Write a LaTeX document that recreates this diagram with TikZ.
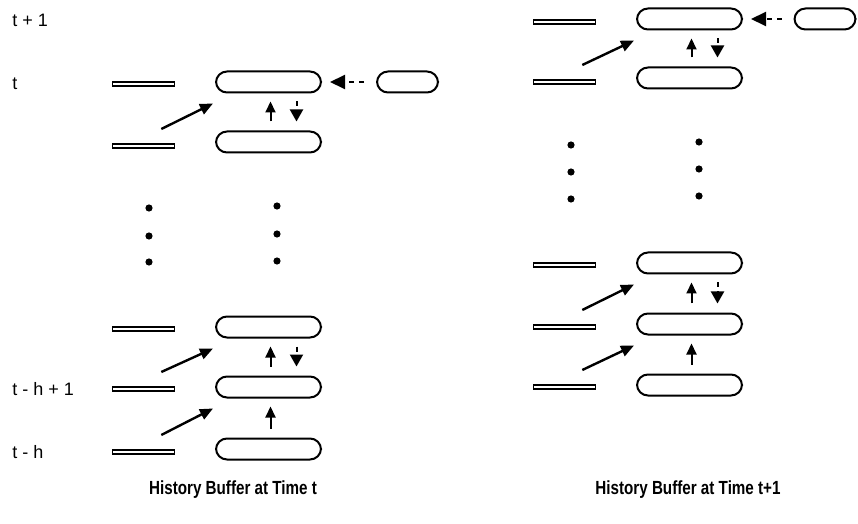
\documentclass[tikz,border=0pt]{standalone}
\usepackage{fontspec}
\setmainfont{Liberation Sans}
\newfontfamily\capfont[FakeStretch=0.8]{Liberation Sans}
\usetikzlibrary{arrows.meta}
\tikzset{
  cell/.style={draw, line width=1pt, rounded corners=5.5pt, minimum width=52.5pt, minimum height=10.5pt, inner sep=0pt},
  newcell/.style={cell, minimum width=30.5pt},
  bar/.style={draw, line width=0.8pt, minimum width=31pt, minimum height=2.2pt, inner sep=0pt},
  dot/.style={circle, fill, inner sep=0pt, minimum size=3.6pt},
  lab/.style={anchor=west, inner sep=0pt, font=\fontsize{9}{10}\selectfont},
  caption/.style={inner sep=0pt, font=\capfont\bfseries\fontsize{9.5}{11}\selectfont},
  feed/.style={line width=1.2pt, -{Triangle[length=6.5pt,width=5.5pt]}},
  up/.style={line width=1pt, -{Triangle[length=5.5pt,width=5pt]}, shorten <=4.5pt, shorten >=4pt},
  down/.style={line width=1pt, dash pattern=on 2.5pt off 2pt, -{Triangle[length=6pt,width=6.5pt]}, shorten <=4pt, shorten >=4.5pt},
  load/.style={line width=1pt, dash pattern=on 2.5pt off 2.5pt, -{Triangle[length=7.5pt,width=7pt]}, shorten <=6pt, shorten >=4pt}
}
\begin{document}
\begin{tikzpicture}[x=0.5pt, y=-0.5pt]
      \useasboundingbox (0,0) rectangle (858,524);
      % time labels
      \draw
        (12,20) node[lab] (l0){t + 1}
        (12,84) node[lab] (l1){t}
        (12,389) node[lab] (l4){t - h + 1}
        (12,452) node[lab] (l5){t - h};
      % history buffer at time t
      \draw
        (143.5,84) node[bar] (b1){}
        (143.5,146) node[bar] (b2){}
        (143.5,329) node[bar] (b3){}
        (143.5,389) node[bar] (b4){}
        (143.5,452) node[bar] (b5){}
        (268.5,82) node[cell] (a1){}
        (268.5,142) node[cell] (a2){}
        (268.5,327) node[cell] (a3){}
        (268.5,387) node[cell] (a4){}
        (268.5,449) node[cell] (a5){}
        (407.5,82) node[newcell] (s1){};
      \draw
        (149,208) node[dot] (p1){}
        (149,236) node[dot] (p2){}
        (149,262) node[dot] (p3){}
        (277,206) node[dot] (q1){}
        (277,234) node[dot] (q2){}
        (277,261) node[dot] (q3){};
      % history buffer at time t+1
      \draw
        (564.5,22) node[bar] (d1){}
        (564.5,82) node[bar] (d2){}
        (564.5,265) node[bar] (d3){}
        (564.5,327) node[bar] (d4){}
        (564.5,387) node[bar] (d5){}
        (689.5,19) node[cell] (c1){}
        (689.5,78) node[cell] (c2){}
        (689.5,263) node[cell] (c3){}
        (689.5,324) node[cell] (c4){}
        (689.5,385) node[cell] (c5){}
        (825,19) node[newcell] (s2){};
      \draw
        (571,145) node[dot] (r1){}
        (571,172) node[dot] (r2){}
        (571,199) node[dot] (r3){}
        (699,142) node[dot] (u1){}
        (699,169) node[dot] (u2){}
        (699,196) node[dot] (u3){};
      \draw
        (233,490) node[caption] (t0){History Buffer at Time t}
        (688,490) node[caption] (t1){History Buffer at Time t+1};
      \begin{scope}
        \draw[feed] ([shift={(-14,-14)}]b2.north east) to ([shift={(-2,10)}]a1.south west);
        \draw[feed] ([shift={(-14,-14)}]b4.north east) to ([shift={(-2,10)}]a3.south west);
        \draw[feed] ([shift={(-14,-14)}]b5.north east) to ([shift={(-2,10)}]a4.south west);
        \draw[up] ([xshift=1pt]a2.north) to ([xshift=1pt]a1.south);
        \draw[down] ([xshift=14pt]a1.south) to ([xshift=14pt]a2.north);
        \draw[up] ([xshift=1pt]a4.north) to ([xshift=1pt]a3.south);
        \draw[down] ([xshift=14pt]a3.south) to ([xshift=14pt]a4.north);
        \draw[up] ([xshift=1pt]a5.north) to ([xshift=1pt]a4.south);
        \draw[load] (s1) to (a1);
        \draw[feed] ([shift={(-14,-14)}]d2.north east) to ([shift={(-2,10)}]c1.south west);
        \draw[feed] ([shift={(-14,-14)}]d4.north east) to ([shift={(-2,10)}]c3.south west);
        \draw[feed] ([shift={(-14,-14)}]d5.north east) to ([shift={(-2,10)}]c4.south west);
        \draw[up] ([xshift=1pt]c2.north) to ([xshift=1pt]c1.south);
        \draw[down] ([xshift=14pt]c1.south) to ([xshift=14pt]c2.north);
        \draw[up] ([xshift=1pt]c4.north) to ([xshift=1pt]c3.south);
        \draw[down] ([xshift=14pt]c3.south) to ([xshift=14pt]c4.north);
        \draw[up] ([xshift=1pt]c5.north) to ([xshift=1pt]c4.south);
        \draw[load] (s2) to (c1);
      \end{scope}
    \end{tikzpicture}
\end{document}
